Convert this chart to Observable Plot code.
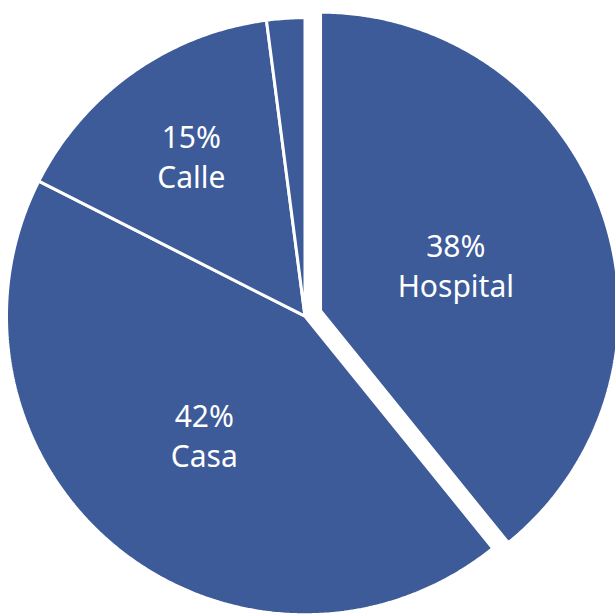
<!DOCTYPE html>
<html>
<head>
<meta charset="utf-8">
<script src="https://cdn.jsdelivr.net/npm/d3@7"></script>
<script src="https://cdn.jsdelivr.net/npm/@observablehq/plot@0.6"></script>
<style>
  html, body { margin: 0; padding: 0; background: #fff; }
  #chart { width: 615px; height: 615px; }
</style>
</head>
<body>
<div id="chart"></div>
<script>
// ---- data ----
const categories = ["Hospital", "Casa", "Calle", "Otro"];
const values = [38, 42, 15, 2];
const showLabel = [true, true, true, false];

// ---- styling / layout ----
const W = 615, H = 615;
const R = 298.5;              // pie radius in chart units (= px)
const cx = 304.5, cy = 315.7; // pie centre position in the frame
const explode = [16.5, 0, 0, 0];
const labelRadius = [0.47, 0.51, 0.66, 0.6];
const labelNudge = [3, -5, 0, 0]; // horizontal label fine-tuning, px
const fillColor = "#3D5A99";

const arcs = d3.pie().sort(null).value(d => d)(values);

const slicePts = [];
const labels = [];
arcs.forEach((a, i) => {
  const mid = (a.startAngle + a.endAngle) / 2;
  const ox = explode[i] * Math.sin(mid), oy = explode[i] * Math.cos(mid);
  const n = Math.max(4, Math.ceil((a.endAngle - a.startAngle) * 120));
  slicePts.push({cat: categories[i], x: ox, y: oy});
  for (let k = 0; k <= n; k++) {
    const t = a.startAngle + (a.endAngle - a.startAngle) * k / n;
    slicePts.push({cat: categories[i], x: ox + R * Math.sin(t), y: oy + R * Math.cos(t)});
  }
  if (showLabel[i]) {
    const lr = labelRadius[i] * R;
    labels.push({x: ox + lr * Math.sin(mid) + labelNudge[i], y: oy + lr * Math.cos(mid),
                 text: `${values[i]}%\n${categories[i]}`});
  }
});

const chart = Plot.plot({
  width: W, height: H,
  margin: 0,
  x: {domain: [-cx, W - cx], range: [0, W], axis: null},
  y: {domain: [-(H - cy), cy], range: [H, 0], axis: null},
  style: {background: "white"},
  marks: [
    Plot.line(slicePts, {x: "x", y: "y", z: "cat", curve: "linear-closed",
      fill: fillColor, stroke: "white", strokeWidth: 3, strokeLinejoin: "miter"}),
    Plot.text(labels, {x: "x", y: "y", text: "text", fill: "white",
      fontSize: 30, lineHeight: 1.33, fontFamily: "Noto Sans", textAnchor: "middle"})
  ]
});
document.getElementById("chart").appendChild(chart);
</script>
</body>
</html>
